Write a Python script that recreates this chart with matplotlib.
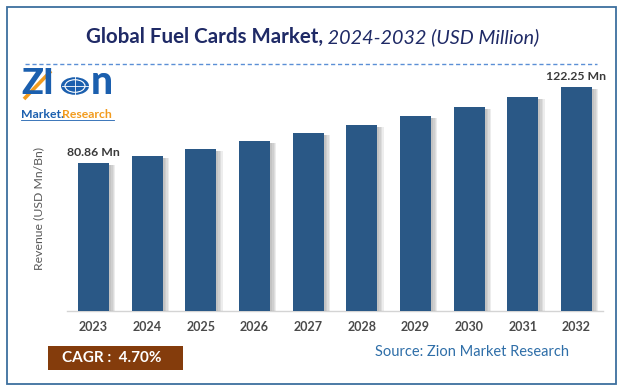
import matplotlib
matplotlib.use("Agg")
import matplotlib.pyplot as plt
from matplotlib import patheffects as pe
from matplotlib.patches import Rectangle, Circle

years = ["2023", "2024", "2025", "2026", "2027", "2028", "2029", "2030", "2031", "2032"]
revenue = [80.86, 84.7, 88.6, 92.8, 97.2, 101.7, 106.5, 111.5, 116.7, 122.25]
first_label = "80.86 Mn"
last_label = "122.25 Mn"
title_bold = "Global Fuel Cards Market,"
title_italic = " 2024-2032 (USD Million)"
cagr_text = "CAGR :  4.70%"
source_text = "Source: Zion Market Research"
ylabel = "Revenue (USD Mn/Bn)"

plt.rcParams['font.family'] = ['Lato', 'DejaVu Sans']

W, H = 624, 392
fig = plt.figure(figsize=(W / 100, H / 100), dpi=100)
fig.patch.set_facecolor("white")

def fx(px):
    return px / W

def fy(py):
    return 1 - py / H

# border
fig.patches.append(Rectangle((fx(7), fy(384)), fx(609), 377 / H, transform=fig.transFigure,
                             fill=False, edgecolor="#3d6f9e", linewidth=1.3))

# axes
ax_left, ax_right, ax_bottom, ax_top = 67, 603, 311, 80
ax = fig.add_axes([fx(ax_left), fy(ax_bottom), fx(ax_right - ax_left), (ax_bottom - ax_top) / H])
scale = (311 - 163) / 80.86
ax.set_ylim(0, (ax_bottom - ax_top) / scale)
ax.set_xlim(-0.494, 9.494)
x = list(range(len(years)))
bars = ax.bar(x, revenue, width=0.58, color="#2a5886", zorder=3)
shadow = [pe.SimplePatchShadow(offset=(d, -1.5), shadow_rgbFace="#707070", alpha=0.12) for d in (4.5, 3.5, 2.5, 1.5)]
for b in bars:
    b.set_path_effects(shadow + [pe.Normal()])

ax.set_xticks(x)
ax.set_xticklabels(years, fontsize=9, fontweight="bold", color="#4a4a4a")
ax.tick_params(axis="x", length=0, pad=7)
ax.set_yticks([])
for s in ["top", "right", "left"]:
    ax.spines[s].set_visible(False)
ax.spines["bottom"].set_color("#d4d4d4")
ax.spines["bottom"].set_linewidth(1)
ax.set_facecolor("none")

ax.annotate(first_label, (x[0], revenue[0]), xytext=(0, 3.5), textcoords="offset points",
            ha="center", va="bottom", fontsize=8.8, fontweight="bold", color="#3a3a3a")
ax.annotate(last_label, (x[-1], revenue[-1]), xytext=(0, 3.5), textcoords="offset points",
            ha="center", va="bottom", fontsize=8.8, fontweight="bold", color="#3a3a3a")

fig.text(fx(39), fy(209), ylabel, rotation=90, ha="center", va="center", fontsize=8.8, color="#595959")

# title
fig.canvas.draw()
r = fig.canvas.get_renderer()
tb = fig.text(0, fy(37), title_bold, ha="left", va="center", fontsize=14.8, fontweight="bold", color="#1f2a66")
ti = fig.text(0, fy(37), title_italic, ha="left", va="center", fontsize=14.2, fontstyle="italic", color="#1f2a66")
wb = tb.get_window_extent(r).width
wi = ti.get_window_extent(r).width
start = 313 - (wb + wi) / 2
tb.set_x(fx(start))
ti.set_x(fx(start + wb))

# dashed line
fig.add_artist(plt.Line2D([fx(25), fx(597)], [fy(64), fy(64)], transform=fig.transFigure,
                          color="#5b8fd6", linestyle=(0, (3, 2)), linewidth=1))

# logo
logo_blue = "#1b5fae"
logo_orange = "#f29b1d"
fig.text(fx(21), fy(84), "ZI", ha="left", va="center", fontsize=26, fontweight="black", color=logo_blue)
fig.add_artist(Circle((fx(75), fy(86)), 14 / W, transform=fig.transFigure, facecolor=logo_blue,
                      edgecolor="none"))
fig.add_artist(Circle((fx(75), fy(86)), 10 / W, transform=fig.transFigure, facecolor="none",
                      edgecolor="white", linewidth=0.8))
fig.add_artist(plt.Line2D([fx(62), fx(88)], [fy(86), fy(86)], transform=fig.transFigure,
                          color="white", linewidth=0.6))
fig.add_artist(plt.Line2D([fx(75), fx(75)], [fy(73), fy(99)], transform=fig.transFigure,
                          color="white", linewidth=0.6))
fig.text(fx(91), fy(82), "n", ha="left", va="center", fontsize=28, fontweight="black", color=logo_blue)
fig.add_artist(plt.Line2D([fx(24), fx(51)], [fy(99), fy(71)], transform=fig.transFigure,
                          color=logo_orange, linewidth=2.6, solid_capstyle="butt"))
fig.text(fx(21), fy(114), "Market.", ha="left", va="center", fontsize=8.8, fontweight="bold", color=logo_blue)
fig.text(fx(62), fy(114), "Research", ha="left", va="center", fontsize=8.8, fontweight="bold", color=logo_orange)
fig.add_artist(plt.Line2D([fx(21), fx(114)], [fy(120), fy(120)], transform=fig.transFigure,
                          color=logo_blue, linewidth=0.6))

# CAGR box
fig.patches.append(Rectangle((fx(48), fy(370)), fx(135), 24 / H, transform=fig.transFigure,
                             facecolor="#843c0c", edgecolor="none"))
fig.text(fx(62), fy(358), cagr_text, ha="left", va="center", fontsize=11, fontweight="bold", color="white")

fig.text(fx(472), fy(352), source_text, ha="center", va="center", fontsize=10.5, color="#2e6ea8")

fig.savefig("out.png", dpi=100, facecolor="white")
